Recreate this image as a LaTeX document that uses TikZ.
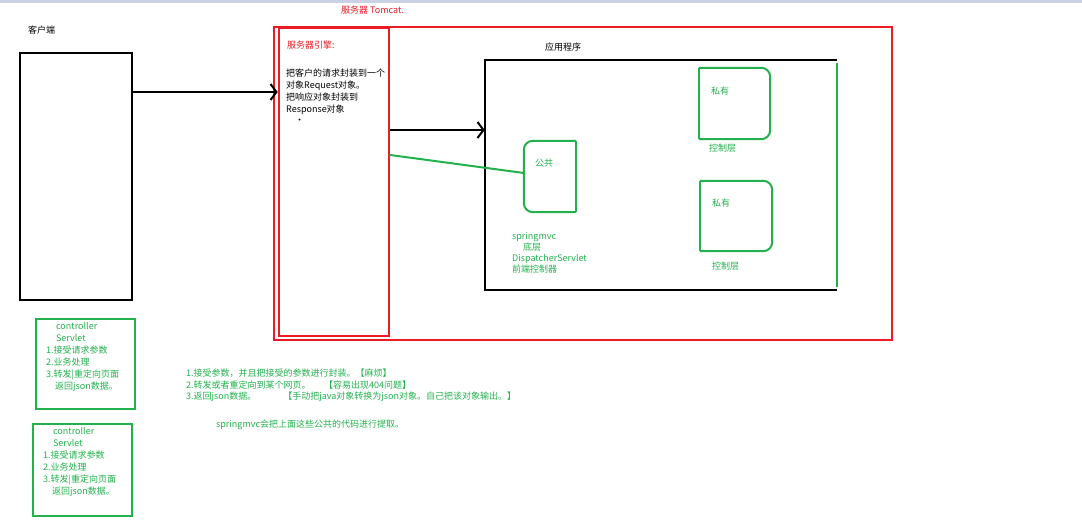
\documentclass[tikz,border=0pt]{standalone}
\usepackage{fontspec}
\setmainfont{Noto Sans CJK SC}
\usepackage{tikz}
\usetikzlibrary{arrows.meta,positioning,calc}

\definecolor{paintred}{HTML}{ED1C24}
\definecolor{paintgreen}{HTML}{22B14C}
\definecolor{barblue}{HTML}{C8D2E4}

\begin{document}
\begin{tikzpicture}[
    x=1pt, y=-1pt,
    font=\fontsize{9}{12}\selectfont,
    txt/.style={inner sep=0pt, anchor=west},
    block/.style={inner sep=0pt, anchor=north west, align=left},
    blackbox/.style={draw=black, line width=2pt, inner sep=0pt},
    redbox/.style={draw=paintred, line width=2.4pt, inner sep=0pt},
    greenbox/.style={draw=paintgreen, line width=2pt, inner sep=0pt},
    hole/.style={inner sep=0pt},
    gline/.style={draw=paintgreen, line width=2pt},
    harrow/.style={-{Straight Barb[length=6pt, width=16pt]}, line width=2pt}
]
\useasboundingbox (0,0) rectangle (1082,521);
\fill[barblue] (0,0) rectangle (1082,3);

% client side
\node[txt] (clientlbl) at (28,30) {客户端};
\node[blackbox, minimum width=112pt, minimum height=247pt] (client) at (76,176.5) {};

% tomcat
\node[txt, text=paintred] (tomcatlbl) at (341,10) {服务器 Tomcat.};
\node[redbox, minimum width=618pt, minimum height=313pt] (tomcat) at (583,183.5) {};
\node[redbox, minimum width=110pt, minimum height=308pt] (engine) at (334,182) {};
\node[txt, text=paintred] (enginelbl) at (287,45) {服务器引擎:};
\node[block] (enginetxt) at (286,69) {把客户的请求封装到一个\\对象Request对象。\\把响应对象封装到\\Response对象};
\node[txt] (dot) at (295,121) {•};

% application
\node[txt] (applbl) at (545,47) {应用程序};
\node[hole, minimum width=352pt, minimum height=230pt] (app) at (661,175) {};
\draw[line width=2pt] (app.north east) -- (app.north west) -- (app.south west) -- (app.south east);
\draw[gline] ([yshift=-3pt]app.north east) -- ([yshift=3pt]app.south east);

% public part
\node[hole, minimum width=52pt, minimum height=71pt] (pub) at (550,176.5) {};
\draw[gline, rounded corners=9pt] (pub.north east) -- (pub.north west) -- (pub.south west) -- (pub.south east);
\draw[gline] (pub.south east) -- (pub.north east);
\node[txt, text=paintgreen] (publbl) at (535,163) {公共};
\node[block, text=paintgreen, font=\fontsize{9}{11}\selectfont] (dispatch) at (512,232) {springmvc\\\hspace*{1.2em}底层\\DispatcherServlet\\前端控制器};

% private parts
\node[hole, minimum width=71pt, minimum height=71pt] (privA) at (734.5,103.5) {};
\node[hole, minimum width=72pt, minimum height=70pt] (privB) at (736,216) {};
\foreach \p in {privA, privB} {
  \draw[gline, rounded corners=9pt] (\p.north west) -- (\p.north east) -- (\p.south east) -- (\p.south west);
  \draw[gline] (\p.south west) -- (\p.north west);
}
\node[txt, text=paintgreen] (privAlbl) at (711,91) {私有};
\node[txt, text=paintgreen] (ctrlAlbl) at (709,148) {控制层};
\node[txt, text=paintgreen] (privBlbl) at (712,203) {私有};
\node[txt, text=paintgreen] (ctrlBlbl) at (712,266) {控制层};

% connectors
\coordinate (c1) at ([yshift=-40pt]client.north east);
\draw[harrow] (c1) -- (c1 -| engine.west);
\coordinate (c2) at ([yshift=52pt]engine.east);
\draw[harrow] (c2) -- (c2 -| app.west);
\coordinate (c3) at ([yshift=27pt]engine.east);
\draw[gline] (c3) -- ([yshift=3.5pt]pub.west);

% controller servlets
\node[greenbox, minimum width=99pt, minimum height=90pt] (servA) at (85.5,364) {};
\node[greenbox, minimum width=99pt, minimum height=92pt] (servB) at (82.5,470) {};
\foreach \s in {servA, servB}
  \node[block, text=paintgreen] at ([xshift=11pt, yshift=-4pt]\s.north west) {\hspace*{1.1em}controller\\\hspace*{1.1em}Servlet\\1.接受请求参数\\2.业务处理\\3.转发|重定向页面\\\hspace*{1em}返回json数据。};

% notes
\node[block, text=paintgreen, font=\fontsize{9}{11.5}\selectfont] (notes) at (186,369) {1.接受参数，并且把接受的参数进行封装。【麻烦】\\2.转发或者重定向到某个网页。\hspace{1.5em}【容易出现404问题】\\3.返回json数据。\hspace{3em}【手动把java对象转换为json对象。自己把该对象输出。】};
\node[txt, text=paintgreen] (summary) at (216,425) {springmvc会把上面这些公共的代码进行提取。};
\end{tikzpicture}
\end{document}
